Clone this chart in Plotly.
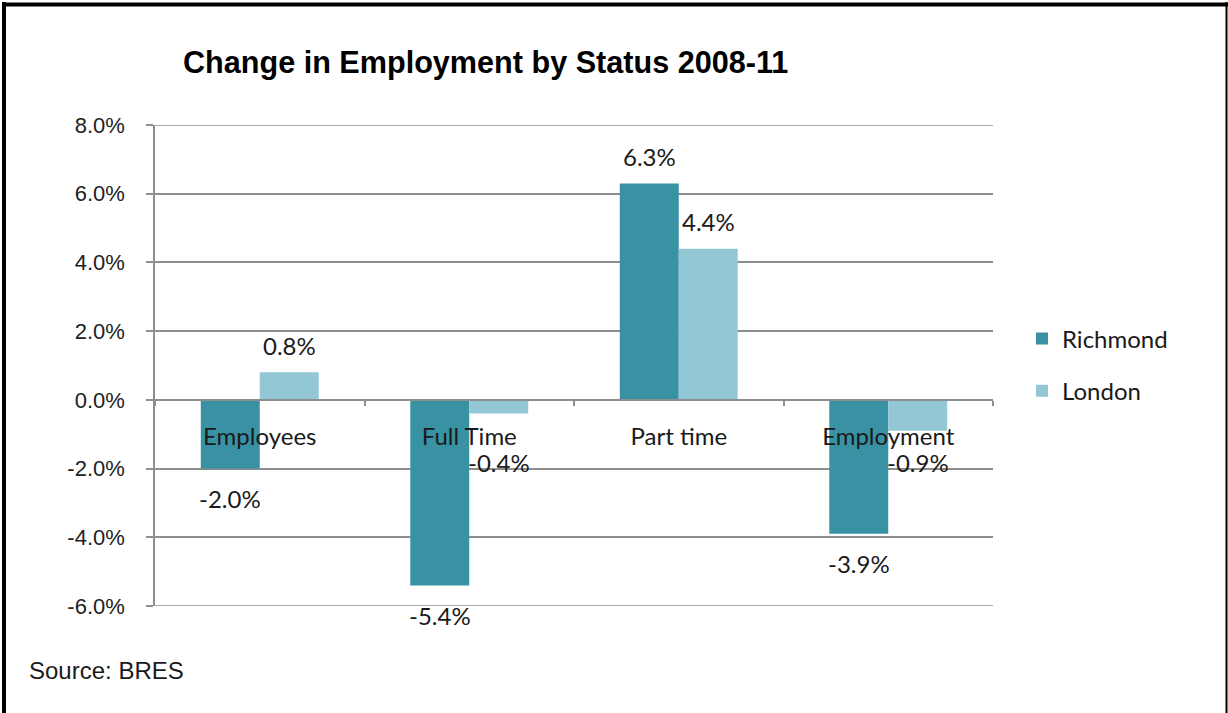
import plotly.graph_objects as go

# ---- data ----
categories = ["Employees", "Full Time", "Part time", "Employment"]
richmond = [-2.0, -5.4, 6.3, -3.9]
london = [0.8, -0.4, 4.4, -0.9]
series_names = ["Richmond", "London"]
y_ticks = [-6, -4, -2, 0, 2, 4, 6, 8]

# ---- layout constants ----
W, H = 1228, 713
L, R, T, B = 155, 1228 - 993, 125, 713 - 606
YMIN, YMAX = y_ticks[0], y_ticks[-1]
BARGAP = 0.437
plot_w = W - L - R
plot_h = H - T - B

def px_x(px):
    return (px - L) / plot_w

def px_y(py):
    return (H - B - py) / plot_h

colors = ["#3892a3", "#93c7d5"]
label_font = dict(family="Lato, Open Sans, sans-serif", size=24, color="#1a1a1a")
arial = "Liberation Sans, Arial, sans-serif"
grid_col = "#8e8e8e"

fig = go.Figure()
for name, vals, col in zip(series_names, [richmond, london], colors):
    fig.add_trace(go.Bar(
        x=categories, y=vals, name=name, marker_color=col,
        marker_line_width=0, legendgroup=name,
    ))

# data labels
cat_w = plot_w / len(categories)
bar_w = cat_w * (1 - BARGAP) / 2
annotations = []
for i, (vals, sign) in enumerate(zip([richmond, london], [-1, 1])):
    for c, v in zip(categories, vals):
        if v >= 0:
            yv, ys = v, 27
        else:
            yv, ys = min(v, -0.95), -30
        annotations.append(dict(
            x=c, y=yv, xref="x", yref="y", text=f"{v:.1f}%",
            showarrow=False, xshift=sign * bar_w / 2, yshift=ys,
            font=label_font, yanchor="middle", xanchor="center",
        ))

annotations.append(dict(
    x=px_x(27), y=px_y(670), xref="paper", yref="paper", text="Source: BRES",
    showarrow=False, xanchor="left", yanchor="middle",
    font=dict(family=arial, size=24, color="#1a1a1a"),
))

shapes = [
    # outer frame: left, top, right
    dict(type="line", xref="paper", yref="paper", x0=px_x(4), x1=px_x(4),
         y0=px_y(2), y1=px_y(720), line=dict(color="black", width=4)),
    dict(type="line", xref="paper", yref="paper", x0=px_x(2), x1=px_x(1228),
         y0=px_y(4.5), y1=px_y(4.5), line=dict(color="black", width=4)),
    dict(type="line", xref="paper", yref="paper", x0=px_x(1226.5), x1=px_x(1226.5),
         y0=px_y(2), y1=px_y(720), line=dict(color="black", width=2)),
]
# top and bottom gridlines (plotly hides gridlines at the range edges)
for yt in (y_ticks[0], y_ticks[-1]):
    shapes.append(dict(type="line", xref="paper", yref="y", x0=0, x1=1,
                       y0=yt, y1=yt, layer="below",
                       line=dict(color=grid_col, width=1.5)))

fig.update_layout(
    width=W, height=H,
    margin=dict(l=L, r=R, t=T, b=B, pad=0),
    paper_bgcolor="white", plot_bgcolor="white",
    barmode="group", bargap=BARGAP, bargroupgap=0,
    title=dict(
        text="<b>Change in Employment by Status 2008-11</b>",
        x=183 / W, xanchor="left", xref="container",
        y=1 - 62 / H, yanchor="middle", yref="container",
        font=dict(family=arial, size=30.6, color="black"),
    ),
    xaxis=dict(
        type="category", categoryorder="array", categoryarray=categories,
        anchor="free", position=(0 - YMIN) / (YMAX - YMIN),
        showline=True, linecolor=grid_col, linewidth=1.5,
        ticks="outside", tickson="boundaries", ticklen=5, tickcolor=grid_col,
        tickwidth=1.5, showgrid=False, zeroline=False,
        tickfont=label_font, ticklabelstandoff=16,
    ),
    yaxis=dict(
        range=[YMIN, YMAX], tickvals=y_ticks,
        ticktext=[f"{t:.1f}%" for t in y_ticks],
        showgrid=True, gridcolor=grid_col, gridwidth=1.5,
        showline=True, linecolor=grid_col, linewidth=1.5,
        ticks="outside", ticklen=7, tickcolor=grid_col, tickwidth=1.5,
        zeroline=False,
        tickfont=dict(family=arial, size=22, color="#222222"),
        ticklabelstandoff=17,
    ),
    legend=dict(
        x=px_x(1022), y=px_y(365), xanchor="left", yanchor="middle",
        font=label_font, tracegroupgap=18, bgcolor="rgba(0,0,0,0)",
        itemwidth=30,
    ),
    annotations=annotations,
    shapes=shapes,
    showlegend=True,
)

fig.write_html("out.html")
